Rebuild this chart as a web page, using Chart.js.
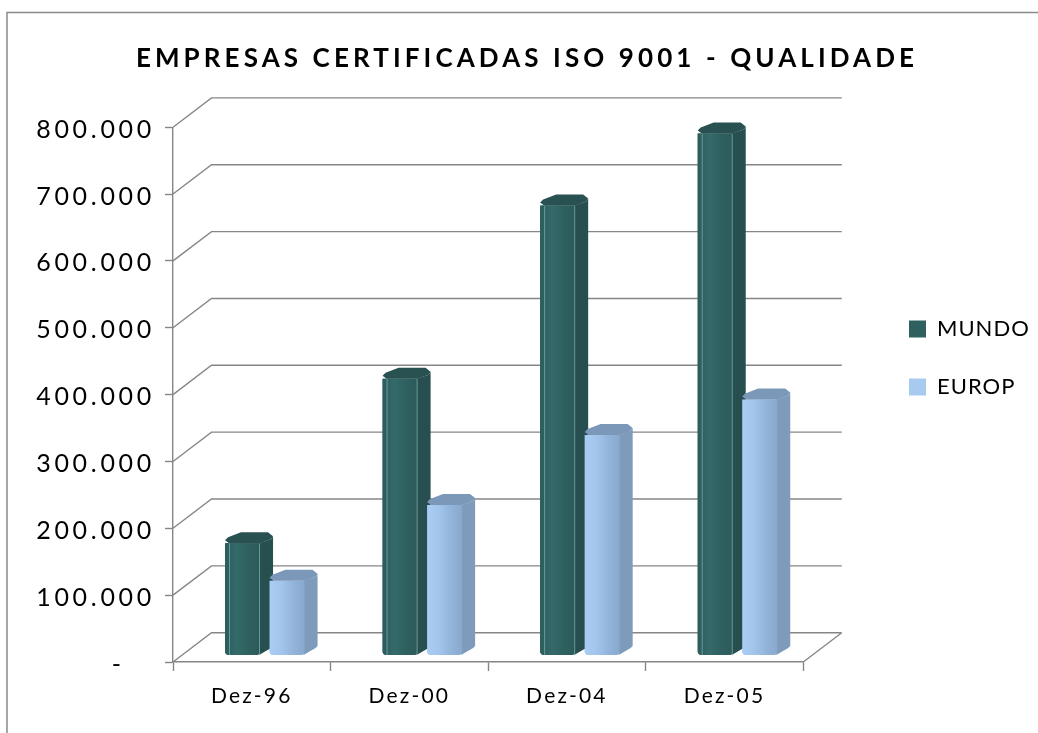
<!DOCTYPE html>
<html>
<head>
<meta charset="utf-8">
<title>Empresas certificadas ISO 9001</title>
<script src="https://cdn.jsdelivr.net/npm/chart.js@4"></script>
<style>
  html, body { margin: 0; padding: 0; background: #fff; }
  canvas { display: block; }
</style>
</head>
<body>
<canvas id="chart" width="1038" height="733"></canvas>
<script>
// valores
const categories = ['Dez-96', 'Dez-00', 'Dez-04', 'Dez-05'];
const mundo = [168000, 414000, 673000, 781000];
const europ = [112000, 225000, 330000, 383000];
const titleText = 'EMPRESAS CERTIFICADAS ISO 9001 - QUALIDADE';

const FONT = 'Lato, "Open Sans", sans-serif';
const GRID = '#868686';
// profundidade das paredes e deslocamento das barras dentro dela
const WALL_X = 38.5, WALL_Y = 29.3;
const BAR_X = 13, BAR_Y = -6.5;

const looks = [
  { face: ['#2c5c5c', '#346a6a', '#2f6060', '#2b5a5a'], side: '#284f50', top: '#2a5151', line: 'rgba(140,185,185,0.65)' },
  { face: ['#a9cdf4', '#a2c5ec', '#94b5db', '#88a8cd'], side: '#7e9bbc', top: '#7b98b9', line: 'rgba(255,255,255,0)' }
];

// espaçamento entre letras, o Chart.js não tem opção para isso
function spaced(obj, method, px, dy = 0) {
  if (obj['_sp' + method]) return;
  obj['_sp' + method] = true;
  const orig = obj[method];
  obj[method] = function (...args) {
    this.ctx.save();
    this.ctx.letterSpacing = px;
    this.ctx.translate(0, dy);
    orig.apply(this, args);
    this.ctx.restore();
  };
}

const backdrop = {
  id: 'backdrop',
  beforeDraw(chart) {
    const ctx = chart.ctx;
    const area = chart.chartArea;
    const y = chart.scales.y;

    spaced(chart.titleBlock, 'draw', '4.1px');
    spaced(chart.legend, 'draw', '1px');
    spaced(chart.scales.x, 'drawLabels', '2.2px');
    spaced(y, 'drawLabels', '3.7px', 2.5);

    // legenda e título no lugar do original
    const pad = chart.options.plugins.legend.labels.padding;
    const legend = chart.legend;
    legend.left = 909 - pad;
    legend.right = 1038;
    legend.top = 318 - pad;
    legend.bottom = 720;
    chart.titleBlock.left = 0;
    chart.titleBlock.right = 1054;

    ctx.save();
    // moldura
    ctx.strokeStyle = '#8a8a8a';
    ctx.lineWidth = 1.5;
    ctx.strokeRect(7, 12.5, 1200, 900);

    // paredes e chão
    ctx.strokeStyle = GRID;
    ctx.lineWidth = 1.4;
    ctx.beginPath();
    y.ticks.forEach((tick, i) => {
      const py = y.getPixelForTick(i);
      ctx.moveTo(area.left, py);
      ctx.lineTo(area.left + WALL_X, py - WALL_Y);
      ctx.lineTo(area.right + WALL_X, py - WALL_Y);
    });
    ctx.moveTo(area.right, area.bottom);
    ctx.lineTo(area.right + WALL_X, area.bottom - WALL_Y);
    ctx.stroke();
    ctx.restore();
  },
  beforeDatasetDraw(chart) {
    chart.ctx.save();
    chart.ctx.translate(BAR_X, BAR_Y);
  },
  afterDatasetDraw(chart) {
    chart.ctx.restore();
  },
  // volume das barras: MUNDO primeiro, EUROP por cima
  afterDatasetsDraw(chart) {
    const ctx = chart.ctx;
    ctx.save();
    ctx.translate(BAR_X, BAR_Y);
    looks.forEach((look, index) => {
      chart.getDatasetMeta(index).data.forEach(bar => {
        const x0 = bar.x - bar.width / 2;
        const x1 = bar.x + bar.width / 2;
        ctx.fillStyle = look.side;
        ctx.beginPath();
        ctx.moveTo(x1 - 1, bar.y);
        ctx.lineTo(x1 + 11, bar.y - 4);
        ctx.lineTo(x1 + 13, bar.y - 7);
        ctx.lineTo(x1 + 13, bar.base - 9);
        ctx.lineTo(x1 + 11, bar.base - 7);
        ctx.lineTo(x1 - 1, bar.base);
        ctx.closePath();
        ctx.fill();
        // sombreado da frente
        const shade = ctx.createLinearGradient(x0, 0, x1, 0);
        look.face.forEach((c, i) => shade.addColorStop(i / (look.face.length - 1), c));
        ctx.fillStyle = shade;
        ctx.beginPath();
        ctx.roundRect(x0, bar.y, bar.width, bar.base - bar.y, [0, 0, 4, 4]);
        ctx.fill();
        // filetes claros
        ctx.strokeStyle = look.line;
        ctx.lineWidth = 1;
        ctx.beginPath();
        ctx.moveTo(x0 + 4.5, bar.y);
        ctx.lineTo(x0 + 4.5, bar.base);
        ctx.moveTo(x1 - 0.5, bar.y);
        ctx.lineTo(x1 - 0.5, bar.base);
        ctx.stroke();
        // tampa
        ctx.fillStyle = look.top;
        ctx.beginPath();
        ctx.moveTo(x0 + 4, bar.y);
        ctx.lineTo(x0, bar.y - 3);
        ctx.lineTo(x0 + 3, bar.y - 6);
        ctx.lineTo(x0 + 16, bar.y - 11);
        ctx.lineTo(x0 + 43, bar.y - 11);
        ctx.lineTo(x0 + 48, bar.y - 7);
        ctx.lineTo(x0 + 46, bar.y - 4);
        ctx.lineTo(x1, bar.y);
        ctx.closePath();
        ctx.fill();
      });
    });
    ctx.restore();
  }
};

new Chart(document.getElementById('chart'), {
  type: 'bar',
  data: {
    labels: categories,
    datasets: [
      { label: 'MUNDO', data: mundo, backgroundColor: '#2f6060', clip: false,
        borderRadius: { bottomLeft: 4, bottomRight: 4 }, borderSkipped: false },
      { label: 'EUROP', data: europ, backgroundColor: '#a6caf0', clip: false,
        borderRadius: { bottomLeft: 4, bottomRight: 4 }, borderSkipped: false }
    ]
  },
  plugins: [backdrop],
  options: {
    responsive: false,
    animation: false,
    categoryPercentage: 0.565,
    barPercentage: 0.787,
    layout: { padding: { right: 73 } },
    scales: {
      x: {
        afterFit(scale) { scale.height = 71; },
        grid: { drawOnChartArea: false, color: GRID, tickLength: 9, tickWidth: 1.4 },
        border: { color: GRID, width: 1.4 },
        ticks: { color: '#000', font: { family: FONT, size: 21 }, padding: 13, maxRotation: 0 }
      },
      y: {
        min: 0,
        max: 800000,
        afterFit(scale) { scale.width = 173; },
        grid: { drawOnChartArea: false, color: GRID, tickLength: 8, tickWidth: 1.4 },
        border: { color: GRID, width: 1.4 },
        ticks: {
          stepSize: 100000,
          color: '#000',
          font: { family: FONT, size: 25 },
          padding: 10,
          callback: value => value === 0 ? '-   ' : value.toLocaleString('de-DE')
        }
      }
    },
    plugins: {
      title: {
        display: true,
        text: titleText,
        color: '#000',
        font: { family: FONT, size: 26, weight: 'bold' },
        padding: { top: 43, bottom: 53 }
      },
      legend: {
        position: 'right',
        align: 'start',
        labels: {
          color: '#000',
          font: { family: FONT, size: 22 },
          boxWidth: 17,
          boxHeight: 17,
          padding: 36
        }
      },
      tooltip: { enabled: false }
    }
  }
});
</script>
</body>
</html>
